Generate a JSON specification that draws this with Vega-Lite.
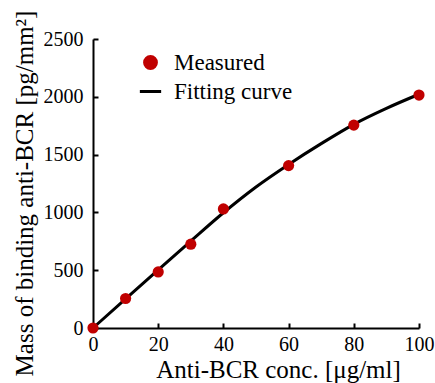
{
  "$schema": "https://vega.github.io/schema/vega-lite/v6.json",
  "width": 326,
  "height": 289,
  "autosize": "none",
  "padding": {"left": 93, "top": 39, "right": 16, "bottom": 55},
  "background": "white",
  "config": {
    "font": "Liberation Serif",
    "view": {"stroke": null},
    "axis": {
      "grid": false,
      "domainColor": "black",
      "domainWidth": 2,
      "tickColor": "black",
      "tickWidth": 2,
      "tickSize": -5,
      "labelFlush": false,
      "labelColor": "black",
      "labelFontSize": 20,
      "labelFont": "Liberation Serif",
      "titleFont": "Liberation Serif",
      "titleFontSize": 25,
      "titleFontWeight": "normal",
      "titleColor": "black"
    }
  },
  "datasets": {
    "measured": [
      {"conc": 0, "mass": 0, "series": "Measured"},
      {"conc": 10, "mass": 255, "series": "Measured"},
      {"conc": 20, "mass": 485, "series": "Measured"},
      {"conc": 30, "mass": 725, "series": "Measured"},
      {"conc": 40, "mass": 1030, "series": "Measured"},
      {"conc": 60, "mass": 1405, "series": "Measured"},
      {"conc": 80, "mass": 1755, "series": "Measured"},
      {"conc": 100, "mass": 2015, "series": "Measured"}
    ],
    "curve": [
      {"conc": 0, "mass": 0, "series": "Fitting curve"},
      {"conc": 10, "mass": 252, "series": "Fitting curve"},
      {"conc": 20, "mass": 503, "series": "Fitting curve"},
      {"conc": 30, "mass": 752, "series": "Fitting curve"},
      {"conc": 40, "mass": 997, "series": "Fitting curve"},
      {"conc": 50, "mass": 1220, "series": "Fitting curve"},
      {"conc": 60, "mass": 1415, "series": "Fitting curve"},
      {"conc": 70, "mass": 1595, "series": "Fitting curve"},
      {"conc": 80, "mass": 1762, "series": "Fitting curve"},
      {"conc": 90, "mass": 1900, "series": "Fitting curve"},
      {"conc": 100, "mass": 2022, "series": "Fitting curve"}
    ]
  },
  "encoding": {
    "x": {
      "field": "conc", "type": "quantitative",
      "scale": {"domain": [0, 100], "nice": false},
      "axis": {"values": [0, 20, 40, 60, 80, 100], "format": "d", "title": "Anti-BCR conc. [μg/ml]", "labelPadding": 11, "titleX": 185, "titleY": 41, "titleBaseline": "middle", "titleAlign": "center"}
    },
    "y": {
      "field": "mass", "type": "quantitative",
      "scale": {"domain": [0, 2500], "nice": false},
      "axis": {"values": [0, 500, 1000, 1500, 2000, 2500], "format": "d", "title": "Mass of binding anti-BCR [pg/mm²]", "labelPadding": 15, "titleX": -69, "titleY": 154, "titleBaseline": "middle", "titleAlign": "center", "titleAngle": -90}
    }
  },
  "layer": [
    {
      "data": {"name": "curve"},
      "mark": {"type": "line", "strokeWidth": 3, "interpolate": "monotone"},
      "encoding": {
        "color": {
          "field": "series", "type": "nominal",
          "scale": {"domain": ["Measured", "Fitting curve"], "range": ["#c00000", "#000000"]},
          "legend": {
            "title": null, "orient": "none", "legendX": 46, "legendY": 12,
            "labelFontSize": 23, "labelFont": "Liberation Serif", "labelColor": "black",
            "symbolSize": 140, "labelOffset": 12, "rowPadding": 5,
            "symbolStrokeWidth": 3,
            "encode": {"symbols": {"update": {"stroke": {"scale": "color", "field": "value"}, "fill": {"scale": "color", "field": "value"}, "strokeWidth": {"value": 3}}}}
          }
        }
      }
    },
    {
      "data": {"name": "measured"},
      "mark": {"type": "point", "filled": true, "size": 125, "opacity": 1},
      "encoding": {
        "color": {"field": "series", "type": "nominal"},
        "shape": {
          "field": "series", "type": "nominal",
          "scale": {"domain": ["Measured", "Fitting curve"], "range": ["circle", "M-1.8,0H1.8"]},
          "legend": {"title": null}
        }
      }
    }
  ]
}
